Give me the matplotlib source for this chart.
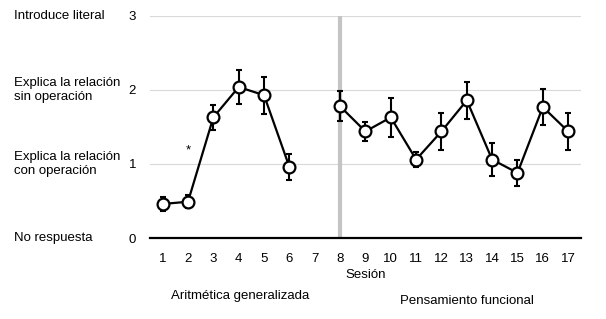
import numpy as np
import matplotlib as mpl
mpl.use('Agg')
from matplotlib import pyplot as plt

plt.rcParams['font.family'] = ['Liberation Sans', 'DejaVu Sans']

sessions = np.arange(1, 18)
means = [0.46, 0.49, 1.63, 2.04, 1.93, 0.96, np.nan, 1.78, 1.44, 1.63,
         1.06, 1.44, 1.86, 1.06, 0.88, 1.77, 1.44]
errors = [0.09, 0.09, 0.17, 0.23, 0.25, 0.18, np.nan, 0.2, 0.13, 0.26,
          0.1, 0.25, 0.25, 0.22, 0.18, 0.24, 0.25]
level_labels = ['No respuesta', 'Explica la relación\ncon operación',
                'Explica la relación\nsin operación', 'Introduce literal']
phase_labels = ['Aritmética generalizada', 'Pensamiento funcional']
phase_change = 8
star_session, star_y = 2, 1.18

fs = 9.5

fig = plt.figure(figsize=(6.06, 3.19), dpi=100)
ax = fig.add_axes([0.2475, 0.2539, 0.711, 0.696])

ax.set_xlim(0.5, 17.5)
ax.set_ylim(0, 3)
ax.set_yticks([0, 1, 2, 3])
ax.set_xticks(sessions)
ax.grid(axis='y', color='#d9d9d9', linewidth=0.8)
ax.set_axisbelow(True)
for s in ['top', 'right', 'left']:
    ax.spines[s].set_visible(False)
ax.spines['bottom'].set_linewidth(1.6)
ax.tick_params(length=0, labelsize=fs, pad=11)
ax.tick_params(axis='y', pad=10)

ax.axvline(phase_change, color='#c4c4c4', linewidth=3, zorder=1)

ax.errorbar(sessions, means, yerr=errors, fmt='-', color='black',
            linewidth=1.6, elinewidth=1.5, capsize=2, capthick=1.5, zorder=2)
ax.plot(sessions, means, 'o', markersize=8.5, markerfacecolor='white',
        markeredgecolor='black', markeredgewidth=1.6, zorder=3)
ax.text(star_session, star_y, '*', ha='center', va='center', fontsize=fs)

ax.set_xlabel('Sesión', fontsize=fs, labelpad=3)

for i, lab in enumerate(level_labels):
    ax.annotate(lab, xy=(0, i), xycoords=('figure fraction', 'data'),
                xytext=(14, 0), textcoords='offset pixels',
                ha='left', va='center', fontsize=fs, linespacing=1.15)

fig.text(240 / 606, 1 - 296 / 319, phase_labels[0], ha='center', va='center', fontsize=fs)
fig.text(467 / 606, 1 - 301 / 319, phase_labels[1], ha='center', va='center', fontsize=fs)

fig.savefig('out.png', dpi=100)
